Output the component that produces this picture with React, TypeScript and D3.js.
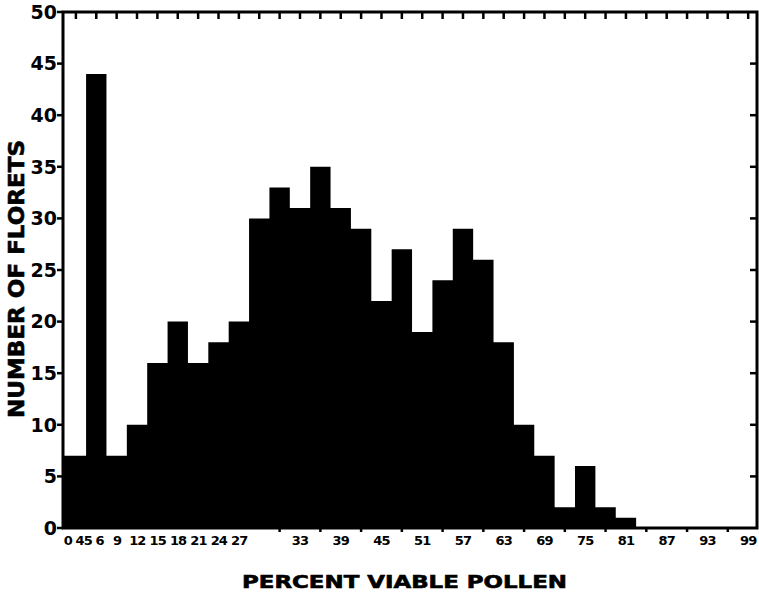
import React from "react";
// @ts-ignore
import * as d3 from "d3";

// class marks (percent viable pollen) and floret counts
const classMarks = [0, 3, 6, 9, 12, 15, 18, 21, 24, 27, 30, 33, 36, 39, 42, 45, 48, 51, 54, 57, 60, 63, 66, 69, 72, 75, 78, 81];
const florets = [7, 44, 7, 10, 16, 20, 16, 18, 20, 30, 33, 31, 35, 31, 29, 22, 27, 19, 24, 29, 26, 18, 10, 7, 2, 6, 2, 1];

const xTickLabels = ["0", "45", "6", "9", "12", "15", "18", "21", "24", "27", "33", "39", "45", "51", "57", "63", "69", "75", "81", "87", "93", "99"];
const xTickValues = [0, 3, 6, 9, 12, 15, 18, 21, 24, 27, 33, 39, 45, 51, 57, 63, 69, 75, 81, 87, 93, 99];
const yTicks = [0, 5, 10, 15, 20, 25, 30, 35, 40, 45, 50];

const W = 759;
const H = 599;
const left = 63;
const right = 757;
const top = 12;
const bottom = 528;
const binWidth = 3;

const font = "'DejaVu Sans', Verdana, sans-serif";

const App: React.FC = () => {
  const x = d3.scaleLinear().domain([-1.9, 100.3]).range([left, right]);
  const y = d3.scaleLinear().domain([0, 50]).range([bottom, top]);

  const topTicks = d3.range(0, 100, 3);
  const bottomTicks = d3.range(30, 100, 6);

  // hand lettering of the first labels is crowded to the left
  const labelX = (v: number) => (v < 30 ? x(v) - Math.min(20, 8 + 1.5 * v) : x(v));

  // histogram silhouette as one stepped area
  const pts: [number, number][] = classMarks.map((c, i) => [c - binWidth / 2, florets[i]]);
  pts.push([classMarks[classMarks.length - 1] + binWidth / 2, florets[florets.length - 1]]);
  const area = d3
    .area<[number, number]>()
    .x((d, i) => (i === 0 ? left : x(d[0])))
    .y0(bottom)
    .y1((d) => y(d[1]))
    .curve(d3.curveStepAfter);

  return (
    <svg
      width={W}
      height={H}
      style={{ position: "absolute", left: 0, top: 0, background: "#fff" }}
    >
      <path d={area(pts) || ""} fill="#000" />

      {/* frame */}
      <rect
        x={left}
        y={top}
        width={right - left}
        height={bottom - top}
        fill="none"
        stroke="#000"
        strokeWidth={3}
      />

      {/* top ticks */}
      {topTicks.map((t) => (
        <line key={"tt" + t} x1={x(t)} x2={x(t)} y1={top} y2={top + 7} stroke="#000" strokeWidth={2.5} />
      ))}

      {/* bottom ticks */}
      {bottomTicks.map((t) => (
        <line key={"bt" + t} x1={x(t)} x2={x(t)} y1={bottom} y2={bottom + 4} stroke="#000" strokeWidth={2.5} />
      ))}

      {/* left ticks + labels */}
      {yTicks.map((t) => (
        <g key={"yl" + t}>
          <line x1={left - 6} x2={left} y1={y(t)} y2={y(t)} stroke="#000" strokeWidth={2.5} />
          <text
            x={left - 6}
            y={y(t)}
            dy="0.36em"
            textAnchor="end"
            fontFamily={font}
            fontWeight="bold"
            fontSize={19}
            fill="#000"
          >
            {t}
          </text>
        </g>
      ))}

      {/* right ticks */}
      {yTicks
        .filter((t) => t > 0 && t < 50)
        .map((t) => (
          <line key={"yr" + t} x1={right - 7} x2={right} y1={y(t)} y2={y(t)} stroke="#000" strokeWidth={2.5} />
        ))}

      {/* x labels */}
      {xTickValues.map((v, i) => (
        <text
          key={"xl" + i}
          x={labelX(v)}
          y={bottom + 17}
          textAnchor="middle"
          fontFamily={font}
          fontWeight="bold"
          fontSize={13}
          letterSpacing={-0.8}
          fill="#000"
        >
          {xTickLabels[i]}
        </text>
      ))}

      {/* axis titles */}
      <text
        x={242}
        y={588}
        textLength={325}
        lengthAdjust="spacingAndGlyphs"
        fontFamily={font}
        fontWeight="bold"
        fontSize={17}
        fill="#000"
        stroke="#000"
        strokeWidth={0.6}
      >
        PERCENT VIABLE POLLEN
      </text>
      <text
        transform={`translate(24, 418) rotate(-90)`}
        textLength={278}
        lengthAdjust="spacingAndGlyphs"
        fontFamily={font}
        fontWeight="bold"
        fontSize={22}
        fill="#000"
        stroke="#000"
        strokeWidth={0.6}
      >
        NUMBER OF FLORETS
      </text>
    </svg>
  );
};

export default App;
